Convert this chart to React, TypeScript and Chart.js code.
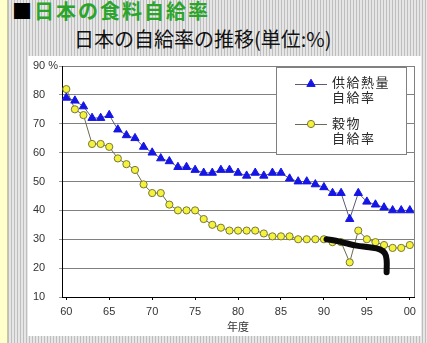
import React, { useEffect, useRef } from 'react';
import { Chart, registerables } from 'chart.js';
import { drawPoint } from 'chart.js/helpers';

Chart.register(...registerables);

// Years 1960..2000
const years = [
  1960, 1961, 1962, 1963, 1964, 1965, 1966, 1967, 1968, 1969,
  1970, 1971, 1972, 1973, 1974, 1975, 1976, 1977, 1978, 1979,
  1980, 1981, 1982, 1983, 1984, 1985, 1986, 1987, 1988, 1989,
  1990, 1991, 1992, 1993, 1994, 1995, 1996, 1997, 1998, 1999,
  2000,
];

// 供給熱量自給率 (calorie self-sufficiency, %)
const calorieRate = [
  79, 78, 76, 72, 72, 73, 68, 66, 65, 62,
  60, 58, 57, 55, 55, 54, 53, 53, 54, 54,
  53, 52, 53, 52, 53, 53, 51, 50, 50, 49,
  48, 46, 46, 37, 46, 43, 42, 41, 40, 40,
  40,
];

// 穀物自給率 (grain self-sufficiency, %)
const grainRate = [
  82, 75, 73, 63, 63, 62, 58, 56, 54, 49,
  46, 46, 42, 40, 40, 40, 37, 35, 34, 33,
  33, 33, 33, 32, 31, 31, 31, 30, 30, 30,
  30, 29, 29, 22, 33, 30, 29, 28, 27, 27,
  28,
];

// Hand-drawn black marker stroke on the picture (in data units)
const scribbleYears = [1990.3, 1991.4, 1992.6, 1993.8, 1995.3, 1996.5, 1997.1, 1997.3, 1997.3];
const scribbleValues = [30, 29.5, 28.6, 27.8, 27.2, 26.5, 25.1, 22.8, 18.6];

const xTickYears = [1960, 1965, 1970, 1975, 1980, 1985, 1990, 1995, 2000];
const xTickLabels = ['60', '65', '70', '75', '80', '85', '90', '95', '00'];
const yTickTop = '90 %';

const seriesLabels = ['供給熱量\n自給率', '穀物\n自給率'];

const LATIN = 'Arial, "Liberation Sans", sans-serif';
const CJK = '"Noto Sans CJK JP", sans-serif';

const frameLinePlugin = {
  id: 'frameLine',
  beforeDatasetsDraw(chart: any) {
    const { ctx, chartArea } = chart;
    ctx.save();
    ctx.strokeStyle = '#808080';
    ctx.lineWidth = 1;
    ctx.beginPath();
    const x = Math.round(chartArea.right) + 0.5;
    ctx.moveTo(x, chartArea.top);
    ctx.lineTo(x, chartArea.bottom);
    ctx.stroke();
    ctx.restore();
  },
};

const boxLegendPlugin = {
  id: 'boxLegend',
  afterDraw(chart: any, _args: any, opts: any) {
    const { ctx } = chart;
    const { left, top, width, height, items } = opts;
    ctx.save();
    ctx.fillStyle = '#ffffff';
    ctx.fillRect(left, top, width, height);
    ctx.strokeStyle = '#808080';
    ctx.lineWidth = 1;
    ctx.strokeRect(left + 0.5, top + 0.5, width, height);
    items.forEach((it: any) => {
      const ds = chart.data.datasets[it.dataset];
      const y = top + it.dy;
      ctx.strokeStyle = ds.borderColor;
      ctx.lineWidth = 1;
      ctx.beginPath();
      ctx.moveTo(left + 19, y + 0.5);
      ctx.lineTo(left + 51, y + 0.5);
      ctx.stroke();
      ctx.fillStyle = ds.pointBackgroundColor;
      ctx.strokeStyle = ds.pointBorderColor;
      ctx.lineWidth = ds.pointBorderWidth;
      drawPoint(ctx, { pointStyle: ds.pointStyle, radius: ds.pointRadius, borderWidth: ds.pointBorderWidth, rotation: 0 }, left + 35, y);
      ctx.fillStyle = '#2a2a2a';
      ctx.font = `13px ${CJK}`;
      (ctx as any).letterSpacing = '1.5px';
      ctx.textBaseline = 'middle';
      ctx.textAlign = 'left';
      String(ds.label).split('\n').forEach((line: string, i: number) => {
        ctx.fillText(line, left + 56, top + it.ty + i * 15);
      });
    });
    ctx.restore();
  },
};

function ChartCanvas() {
  const ref = useRef<HTMLCanvasElement | null>(null);
  useEffect(() => {
    if (!ref.current) return;
    const chart = new Chart(ref.current, {
      type: 'line',
      data: {
        datasets: [
          {
            label: seriesLabels[0],
            data: years.map((y, i) => ({ x: y, y: calorieRate[i] })),
            borderColor: '#5a5a7a',
            borderWidth: 1,
            pointStyle: 'triangle',
            pointRadius: 4.8,
            pointBackgroundColor: '#1515e6',
            pointBorderColor: '#1515e6',
            pointBorderWidth: 1,
            tension: 0,
            order: 1,
          },
          {
            label: seriesLabels[1],
            data: years.map((y, i) => ({ x: y, y: grainRate[i] })),
            borderColor: '#6a6a50',
            borderWidth: 1,
            pointStyle: 'circle',
            pointRadius: 3.6,
            pointBackgroundColor: '#f4f23a',
            pointBorderColor: '#77773a',
            pointBorderWidth: 1,
            tension: 0,
            order: 2,
          },
          {
            label: 'scribble',
            data: scribbleYears.map((y, i) => ({ x: y, y: scribbleValues[i] })),
            borderColor: '#0a0a0a',
            borderWidth: 6,
            borderCapStyle: 'round',
            borderJoinStyle: 'round',
            pointRadius: 0,
            tension: 0.4,
            order: 0,
          },
        ],
      },
      options: {
        responsive: false,
        animation: false,
        devicePixelRatio: 1,
        layout: { padding: { left: 5, top: 10, right: 6, bottom: 0 } },
        plugins: {
          legend: { display: false },
          tooltip: { enabled: false },
          boxLegend: {
            left: 248,
            top: 11,
            width: 130,
            height: 87,
            items: [
              { dataset: 0, dy: 17, ty: 15 },
              { dataset: 1, dy: 57, ty: 56 },
            ],
          },
        } as any,
        scales: {
          x: {
            type: 'linear',
            min: 1959.5,
            max: 2000.5,
            afterBuildTicks: (scale: any) => {
              scale.ticks = xTickYears.map((v) => ({ value: v }));
            },
            afterFit: (scale: any) => {
              scale.height = 39;
            },
            ticks: {
              autoSkip: false,
              maxRotation: 0,
              padding: 5,
              color: '#333333',
              font: { family: LATIN, size: 11 },
              callback: (_v: any, i: number) => xTickLabels[i],
            },
            grid: {
              drawOnChartArea: false,
              drawTicks: true,
              tickLength: 3,
              color: '#000000',
            },
            border: { color: '#000000', width: 1 },
            title: {
              display: true,
              text: '年度',
              color: '#333333',
              font: { family: CJK, size: 11 },
              padding: { top: 0, bottom: 3 },
            },
          },
          y: {
            min: 10,
            max: 90,
            afterFit: (scale: any) => {
              scale.width = 29;
            },
            ticks: {
              stepSize: 10,
              crossAlign: 'far',
              color: '#333333',
              font: { family: LATIN, size: 11 },
              callback: (v: any) => (v === 90 ? yTickTop : String(v)),
            },
            grid: {
              color: (c: any) => (c.tick && c.tick.value === 10 ? 'rgba(0,0,0,0)' : '#808080'),
              tickColor: '#9a9a9a',
              tickLength: 3,
              lineWidth: 1,
            },
            border: { color: '#000000', width: 1 },
          },
        },
      },
      plugins: [frameLinePlugin, boxLegendPlugin],
    } as any);
    return () => chart.destroy();
  }, []);
  return <canvas ref={ref} width={393} height={280} style={{ display: 'block', width: 393, height: 280 }} />;
}

export default function App() {
  const stripes =
    'repeating-linear-gradient(to right, #e6e6e6 0px, #e6e6e6 2px, #bebebe 2px, #bebebe 3px)';
  return (
    <div
      style={{
        position: 'absolute',
        left: 0,
        top: 0,
        width: 427,
        height: 343,
        overflow: 'hidden',
        background: stripes,
      }}
    >
      <div
        style={{
          position: 'absolute',
          left: 0,
          top: 0,
          width: 7,
          height: 343,
          background: '#ffffcc',
          borderRight: '1px solid #c8c8a0',
        }}
      />
      <div
        style={{
          position: 'absolute',
          left: 12,
          top: -1,
          font: `bold 20px ${CJK}`,
          lineHeight: '24px',
          letterSpacing: '2px',
          color: '#2aa52a',
          whiteSpace: 'nowrap',
        }}
      >
        <span style={{ color: '#000000' }}>■</span>日本の食料自給率
      </div>
      <div
        style={{
          position: 'absolute',
          left: 74,
          top: 27,
          font: `20px ${CJK}`,
          lineHeight: '24px',
          color: '#111111',
          whiteSpace: 'nowrap',
        }}
      >
        日本の自給率の推移(単位:%)
      </div>
      <div
        style={{
          position: 'absolute',
          left: 28,
          top: 56,
          width: 393,
          height: 280,
          background: '#ffffff',
        }}
      >
        <ChartCanvas />
      </div>
    </div>
  );
}
